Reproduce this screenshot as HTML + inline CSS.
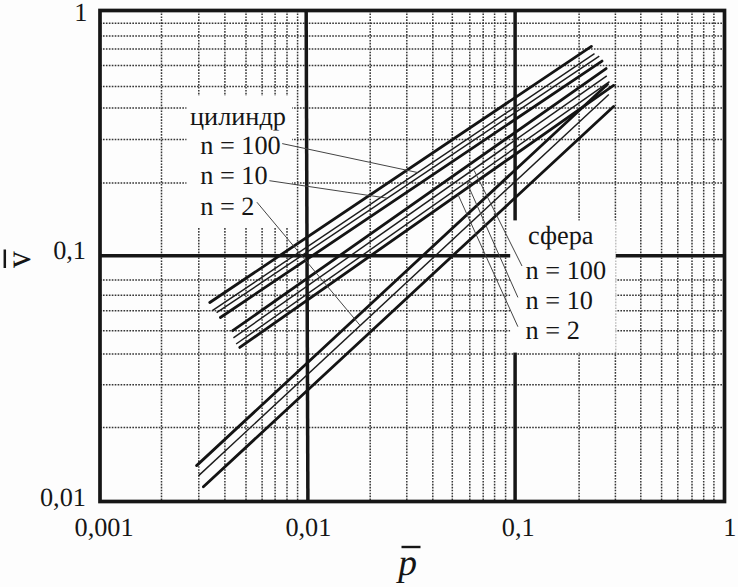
<!DOCTYPE html>
<html lang="ru"><head><meta charset="utf-8"><title>chart</title>
<style>html,body{margin:0;padding:0;background:#fdfdfd;}svg{display:block}text{font-family:"Liberation Serif",serif;fill:#151515;text-rendering:geometricPrecision}</style></head><body>
<svg width="738" height="587" viewBox="0 0 738 587">
<rect width="738" height="587" fill="#fdfdfd"/>
<defs><filter id="soft" x="-2%" y="-2%" width="104%" height="104%"><feGaussianBlur stdDeviation="0.42"/></filter></defs>
<g stroke="#363636" stroke-width="1.5" stroke-dasharray="1.65 1.29" fill="none" filter="url(#soft)">
<line x1="100.0" y1="23.2" x2="724.5" y2="23.2"/>
<line x1="100.0" y1="36.0" x2="724.5" y2="36.0"/>
<line x1="100.0" y1="49.0" x2="724.5" y2="49.0"/>
<line x1="100.0" y1="65.5" x2="724.5" y2="65.5"/>
<line x1="100.0" y1="86.6" x2="724.5" y2="86.6"/>
<line x1="100.0" y1="108.0" x2="724.5" y2="108.0"/>
<line x1="100.0" y1="139.5" x2="724.5" y2="139.5"/>
<line x1="100.0" y1="183.1" x2="724.5" y2="183.1"/>
<line x1="100.0" y1="279.9" x2="724.5" y2="279.9"/>
<line x1="100.0" y1="295.2" x2="724.5" y2="295.2"/>
<line x1="100.0" y1="310.7" x2="724.5" y2="310.7"/>
<line x1="100.0" y1="330.8" x2="724.5" y2="330.8"/>
<line x1="100.0" y1="354.0" x2="724.5" y2="354.0"/>
<line x1="100.0" y1="384.8" x2="724.5" y2="384.8"/>
<line x1="100.0" y1="427.4" x2="724.5" y2="427.4"/>
<line x1="161.5" y1="10.5" x2="161.5" y2="501.5"/>
<line x1="198.8" y1="10.5" x2="198.8" y2="501.5"/>
<line x1="224.9" y1="10.5" x2="224.9" y2="501.5"/>
<line x1="246.0" y1="10.5" x2="246.0" y2="501.5"/>
<line x1="262.1" y1="10.5" x2="262.1" y2="501.5"/>
<line x1="275.1" y1="10.5" x2="275.1" y2="501.5"/>
<line x1="287.0" y1="10.5" x2="287.0" y2="501.5"/>
<line x1="297.6" y1="10.5" x2="297.6" y2="501.5"/>
<line x1="370.2" y1="10.5" x2="370.2" y2="501.5"/>
<line x1="406.8" y1="10.5" x2="406.8" y2="501.5"/>
<line x1="432.8" y1="10.5" x2="432.8" y2="501.5"/>
<line x1="452.3" y1="10.5" x2="452.3" y2="501.5"/>
<line x1="469.8" y1="10.5" x2="469.8" y2="501.5"/>
<line x1="483.2" y1="10.5" x2="483.2" y2="501.5"/>
<line x1="494.6" y1="10.5" x2="494.6" y2="501.5"/>
<line x1="505.6" y1="10.5" x2="505.6" y2="501.5"/>
<line x1="579.1" y1="10.5" x2="579.1" y2="501.5"/>
<line x1="615.4" y1="10.5" x2="615.4" y2="501.5"/>
<line x1="640.8" y1="10.5" x2="640.8" y2="501.5"/>
<line x1="661.6" y1="10.5" x2="661.6" y2="501.5"/>
<line x1="677.8" y1="10.5" x2="677.8" y2="501.5"/>
<line x1="692.0" y1="10.5" x2="692.0" y2="501.5"/>
<line x1="703.7" y1="10.5" x2="703.7" y2="501.5"/>
<line x1="713.9" y1="10.5" x2="713.9" y2="501.5"/>
</g>
<g stroke="#161616" stroke-width="3.5" fill="none">
<line x1="306.15" y1="10.5" x2="307.9" y2="501.5"/>
<line x1="515.1" y1="10.5" x2="515.1" y2="501.5"/>
<line x1="100.0" y1="255.7" x2="724.5" y2="255.7"/>
</g>
<rect x="186.5" y="96" width="105.5" height="131" fill="#fdfdfd"/>
<rect x="510.2" y="220.4" width="105.5" height="132.2" fill="#fdfdfd"/>
<rect x="100.0" y="10.5" width="624.5" height="491.0" fill="none" stroke="#161616" stroke-width="3.7"/>
<g stroke="#141414" stroke-width="2.8" stroke-linecap="round" fill="none">
<line x1="209.8" y1="302.5" x2="591.4" y2="46.4"/>
<line x1="220.4" y1="317.5" x2="602.0" y2="61.1"/>
<line x1="232.7" y1="330.7" x2="606.1" y2="68.6"/>
<line x1="239.8" y1="347.4" x2="613.6" y2="85.4"/>
<line x1="196.6" y1="465.6" x2="607.5" y2="84.3"/>
<line x1="203.4" y1="486.8" x2="613.6" y2="106.5"/>
</g>
<g stroke="#1c1c1c" stroke-width="1.45" fill="none">
<line x1="212.3" y1="310.7" x2="594.5" y2="53.6"/>
<line x1="216.6" y1="312.7" x2="599.3" y2="56.1"/>
<line x1="233.4" y1="337.9" x2="606.8" y2="75.8"/>
<line x1="236.1" y1="344.0" x2="609.5" y2="81.6"/>
<line x1="198.4" y1="475.9" x2="608.8" y2="94.5"/>
</g>
<g stroke="#444" stroke-width="1" fill="none">
<line x1="282.2" y1="143.6" x2="417.5" y2="172.5"/>
<line x1="269.4" y1="180.7" x2="386.9" y2="198.1"/>
<line x1="256.9" y1="202.2" x2="359.9" y2="325.2"/>
<line x1="522.0" y1="266.0" x2="474.1" y2="170.4"/>
<line x1="517.9" y1="297.4" x2="466.4" y2="181.5"/>
<line x1="517.9" y1="326.7" x2="457.9" y2="194.3"/>
</g>
<g font-size="26.3">
<text x="87.5" y="20.8" text-anchor="end">1</text>
<text x="86" y="259.1" text-anchor="end">0,1</text>
<text x="86" y="506" text-anchor="end">0,01</text>
<text x="74.5" y="536.2">0,001</text>
<text x="285.4" y="536.2">0,01</text>
<text x="501.8" y="536.2">0,1</text>
<text x="723.2" y="536.4">1</text>
<text x="190" y="124.5">цилиндр</text>
<text x="200.2" y="153.9">n = 100</text>
<text x="200.2" y="184">n = 10</text>
<text x="200.2" y="215.2">n = 2</text>
<text x="528" y="244.2">сфера</text>
<text x="525.6" y="279">n = 100</text>
<text x="525.6" y="309">n = 10</text>
<text x="525.6" y="339">n = 2</text>
</g>
<text x="398.2" y="574.7" font-size="37.5" font-style="italic">p</text>
<line x1="401.5" y1="547" x2="420.5" y2="547" stroke="#161616" stroke-width="2.4"/>
<text transform="translate(29.7,268.1) rotate(-90) scale(0.94,1)" font-size="35.8">v</text>
<line x1="4.8" y1="249.5" x2="4.8" y2="268" stroke="#161616" stroke-width="2.5"/>
</svg></body></html>
